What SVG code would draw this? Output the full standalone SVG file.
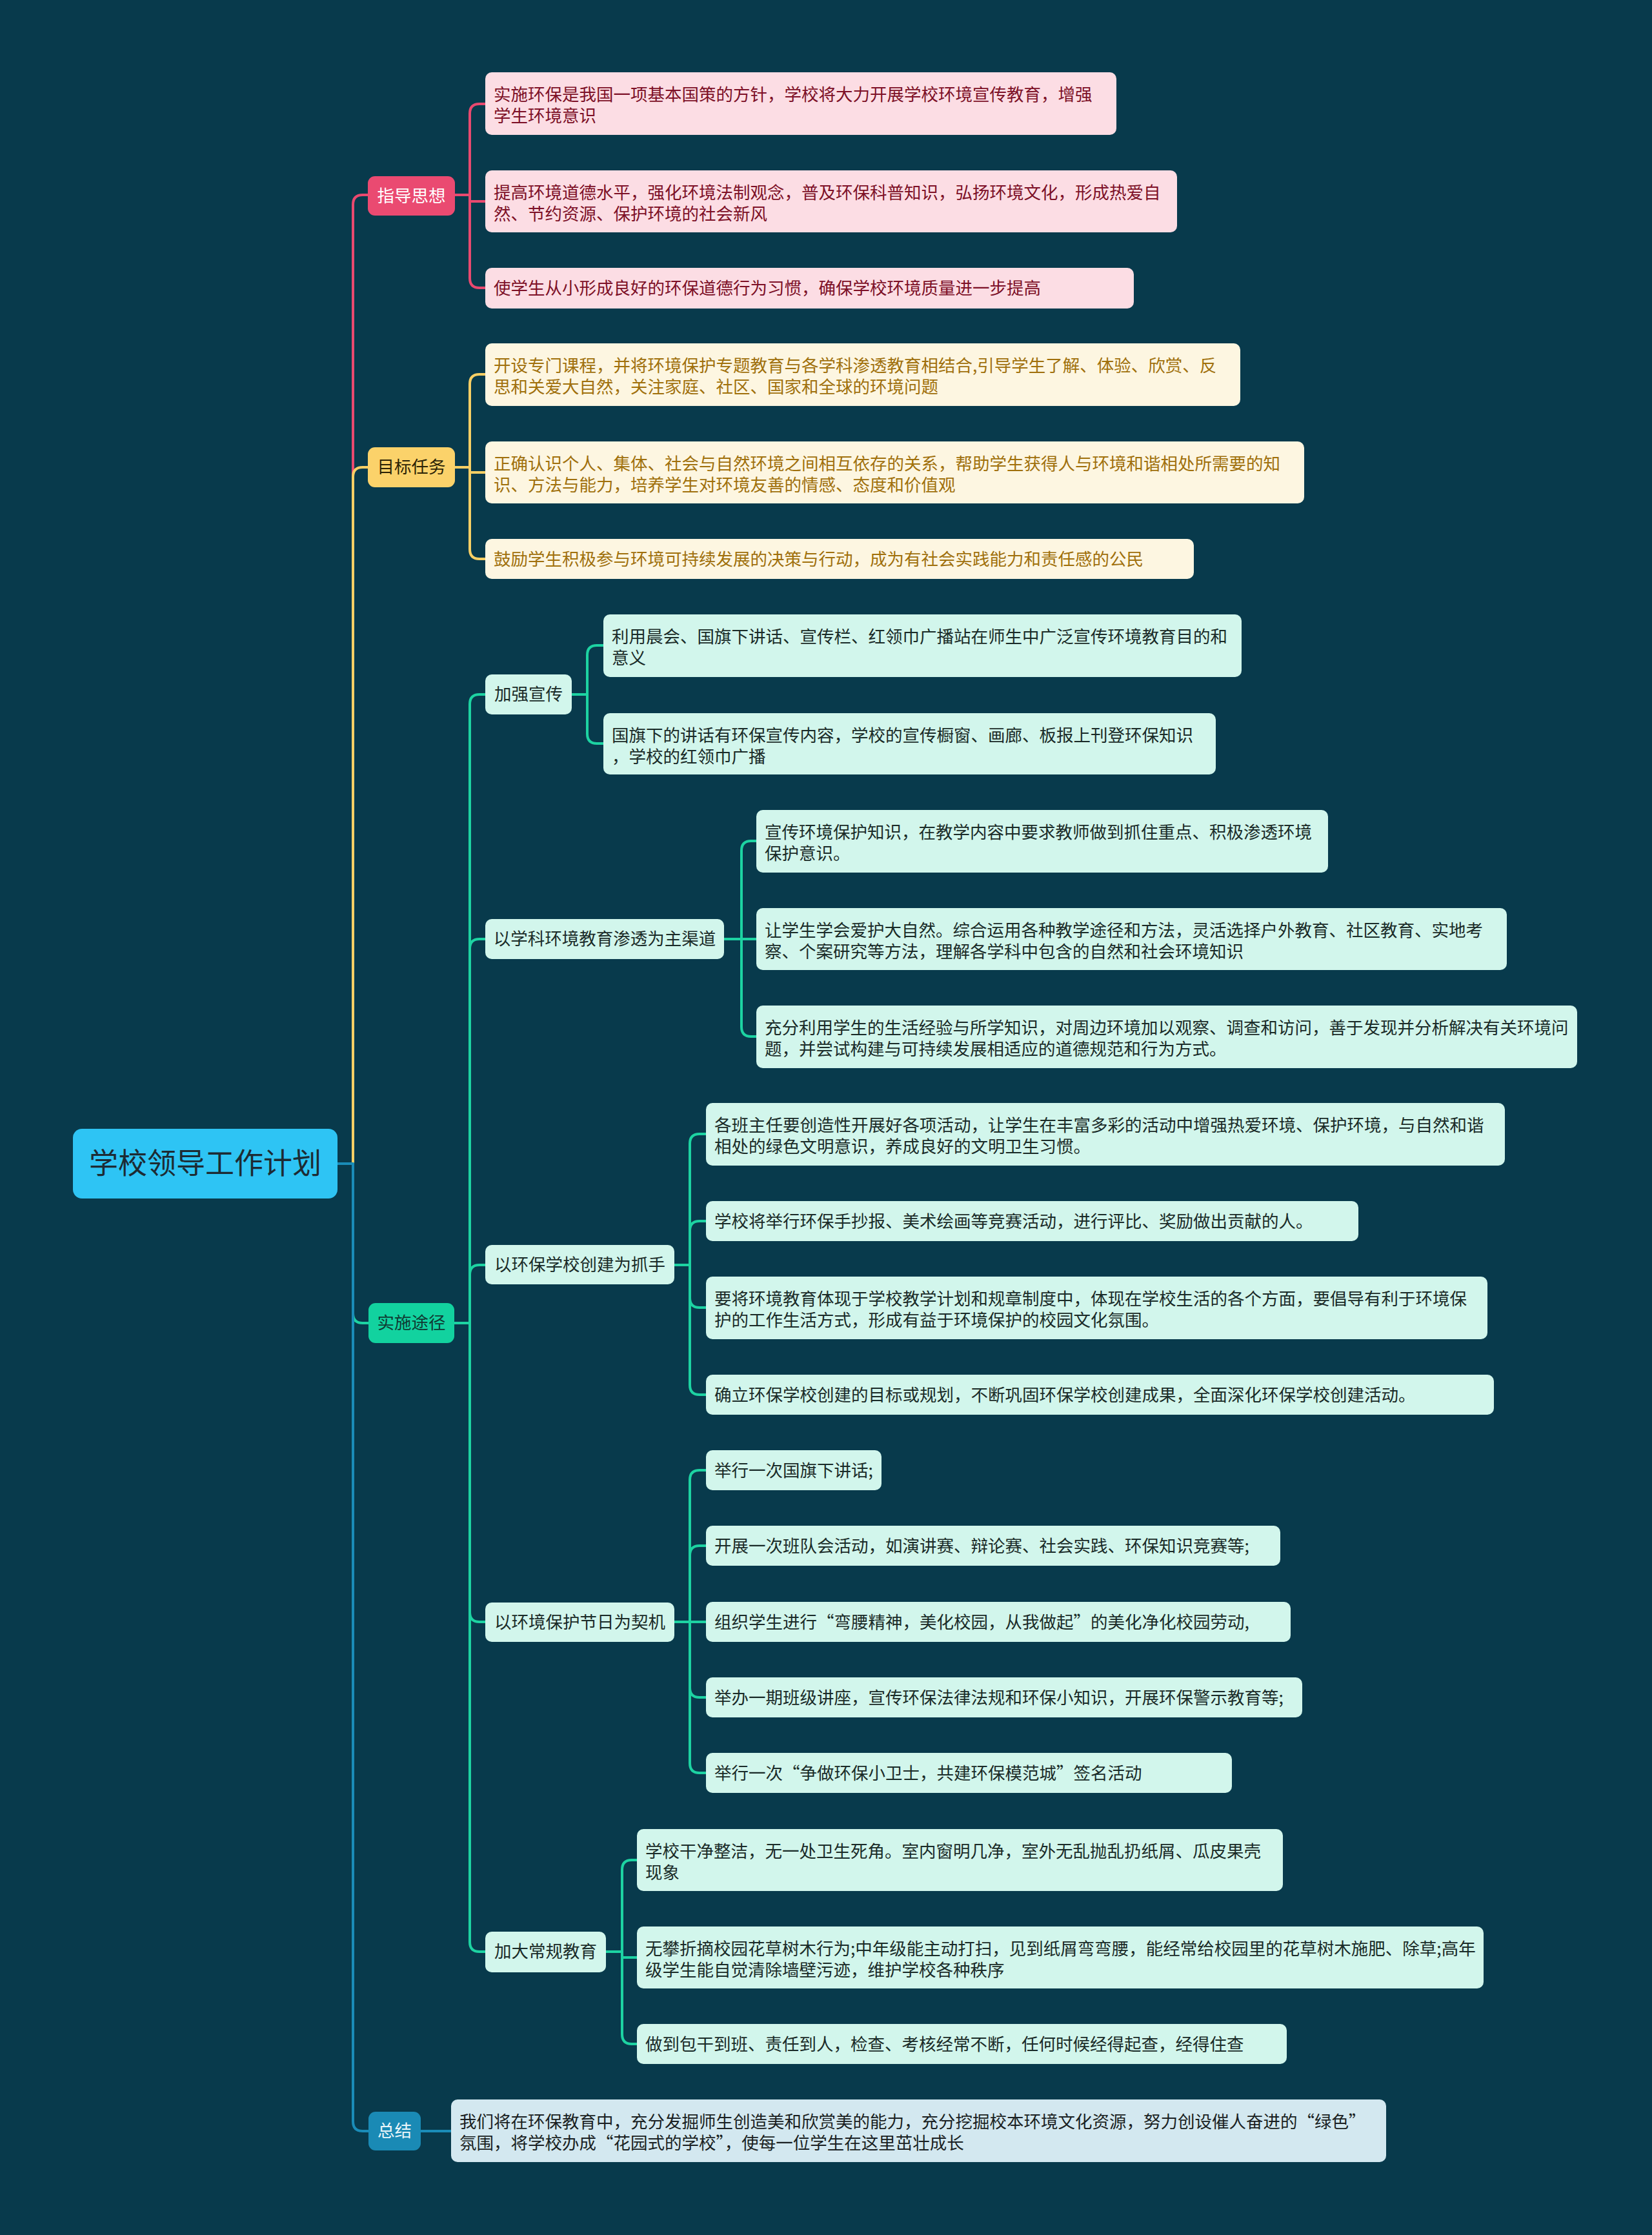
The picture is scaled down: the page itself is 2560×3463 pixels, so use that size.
<svg xmlns="http://www.w3.org/2000/svg" width="2560" height="3463" viewBox="0 0 2560 3463">
<style>
text{font-family:"Noto Sans CJK SC","Noto Sans",sans-serif;font-size:26.5px}
.c{fill:none;stroke-width:4;stroke-linecap:round;stroke-linejoin:round}
.cp{stroke:#e9496f}.cy{stroke:#f8cf65}.cg{stroke:#1dd3a2}.cb{stroke:#1a8cb8}
.lp{fill:#fcdde4}.tp{fill:#7d1027}
.ly{fill:#fdf6e1}.ty{fill:#a0700c}
.lg{fill:#d2f6ec}.tg{fill:#1a2b28}
.lb{fill:#d3e8f0}.tb{fill:#1a1f22}
.m{text-anchor:middle}
</style>
<rect width="2560" height="3463" fill="#083a4c"/>
<g id="connectors">
<path class="c cp" d="M523,1803 H547 V317 Q547,302 562,302 H572"/>
<path class="c cy" d="M547,1803 V739 Q547,724 562,724 H572"/>
<path class="c cg" d="M547,1803 V2035 Q547,2050 562,2050 H573"/>
<path class="c cb" d="M523,1803 H547 V3287 Q547,3302 562,3302 H573"/>
<path class="c cp" d="M705,302 H728 M728,302 V176 Q728,161 743,161 H754 M728,302 V312 H754 M728,302 V431 Q728,446 743,446 H754"/>
<path class="c cy" d="M705,724 H728 M728,724 V595 Q728,580 743,580 H754 M728,724 V732 H754 M728,724 V851 Q728,866 743,866 H754"/>
<path class="c cg" d="M704,2050 H728 M728,2050 V1091 Q728,1076 743,1076 H754 M728,2050 V1470 Q728,1455 743,1455 H754 M728,2050 V1975 Q728,1960 743,1960 H754 M728,2050 V2498 Q728,2513 743,2513 H754 M728,2050 V3009 Q728,3024 743,3024 H754"/>
<path class="c cg" d="M886,1076 H910 M910,1076 V1015 Q910,1000 925,1000 H937 M910,1076 V1137 Q910,1152 925,1152 H937"/>
<path class="c cg" d="M1122,1455 H1149 M1149,1455 V1318 Q1149,1303 1164,1303 H1174 M1149,1455 H1174 M1149,1455 V1591 Q1149,1606 1164,1606 H1174"/>
<path class="c cg" d="M1045,1960 H1069 M1069,1960 V1772 Q1069,1757 1084,1757 H1096 M1069,1960 V1907 Q1069,1892 1084,1892 H1096 M1069,1960 V2011 Q1069,2026 1084,2026 H1096 M1069,1960 V2146 Q1069,2161 1084,2161 H1096"/>
<path class="c cg" d="M1045,2513 H1069 M1069,2513 V2293 Q1069,2278 1084,2278 H1096 M1069,2513 V2410 Q1069,2395 1084,2395 H1096 M1069,2513 H1096 M1069,2513 V2615 Q1069,2630 1084,2630 H1096 M1069,2513 V2732 Q1069,2747 1084,2747 H1096"/>
<path class="c cg" d="M939,3024 H964 M964,3024 V2897 Q964,2882 979,2882 H989 M964,3024 V3033 H989 M964,3024 V3152 Q964,3167 979,3167 H989"/>
<path class="c cb" d="M652,3302 H701"/>
</g>
<g id="root"><rect x="113" y="1749" width="410" height="108" rx="14" fill="#2ec4f4"/><text x="318" y="1819" class="m" style="font-size:45px" fill="#1d2b33">学校领导工作计划</text></g>
<g id="n-zhidao"><rect x="570" y="273" width="135" height="61" rx="11" fill="#ea4a71"/><text x="637.5" y="313" class="m" fill="#ffffff">指导思想</text></g>
<g id="p1"><rect class="lp" x="752" y="112" width="978" height="97" rx="10"/><text class="tp" x="765" y="156">实施环保是我国一项基本国策的方针，学校将大力开展学校环境宣传教育，增强</text><text class="tp" x="765" y="189">学生环境意识</text></g>
<g id="p2"><rect class="lp" x="752" y="264" width="1072" height="96" rx="10"/><text class="tp" x="765" y="308">提高环境道德水平，强化环境法制观念，普及环保科普知识，弘扬环境文化，形成热爱自</text><text class="tp" x="765" y="341">然、节约资源、保护环境的社会新风</text></g>
<g id="p3"><rect class="lp" x="752" y="415" width="1005" height="63" rx="10"/><text class="tp" x="765" y="456">使学生从小形成良好的环保道德行为习惯，确保学校环境质量进一步提高</text></g>
<g id="n-mubiao"><rect x="570" y="693" width="135" height="62" rx="11" fill="#fbd26a"/><text x="637.5" y="733" class="m" fill="#2b2205">目标任务</text></g>
<g id="y1"><rect class="ly" x="752" y="532" width="1170" height="97" rx="10"/><text class="ty" x="765" y="576">开设专门课程，并将环境保护专题教育与各学科渗透教育相结合,引导学生了解、体验、欣赏、反</text><text class="ty" x="765" y="609">思和关爱大自然，关注家庭、社区、国家和全球的环境问题</text></g>
<g id="y2"><rect class="ly" x="752" y="684" width="1269" height="96" rx="10"/><text class="ty" x="765" y="728">正确认识个人、集体、社会与自然环境之间相互依存的关系，帮助学生获得人与环境和谐相处所需要的知</text><text class="ty" x="765" y="761">识、方法与能力，培养学生对环境友善的情感、态度和价值观</text></g>
<g id="y3"><rect class="ly" x="752" y="835" width="1098" height="62" rx="10"/><text class="ty" x="765" y="876">鼓励学生积极参与环境可持续发展的决策与行动，成为有社会实践能力和责任感的公民</text></g>
<g id="n-shishi"><rect x="571" y="2019" width="133" height="62" rx="11" fill="#12d29f"/><text x="637.5" y="2059" class="m" fill="#0f3b33">实施途径</text></g>
<g id="g-xuanchuan"><rect class="lg" x="752" y="1045" width="134" height="62" rx="10"/><text class="tg m" x="819" y="1085">加强宣传</text></g>
<g id="g1"><rect class="lg" x="935" y="952" width="989" height="97" rx="10"/><text class="tg" x="948" y="996">利用晨会、国旗下讲话、宣传栏、红领巾广播站在师生中广泛宣传环境教育目的和</text><text class="tg" x="948" y="1029">意义</text></g>
<g id="g2"><rect class="lg" x="935" y="1105" width="949" height="95" rx="10"/><text class="tg" x="948" y="1149">国旗下的讲话有环保宣传内容，学校的宣传橱窗、画廊、板报上刊登环保知识</text><text class="tg" x="948" y="1182">，学校的红领巾广播</text></g>
<g id="g-xueke"><rect class="lg" x="752" y="1424" width="370" height="62" rx="10"/><text class="tg m" x="937" y="1464">以学科环境教育渗透为主渠道</text></g>
<g id="g3"><rect class="lg" x="1172" y="1255" width="886" height="97" rx="10"/><text class="tg" x="1185" y="1299">宣传环境保护知识，在教学内容中要求教师做到抓住重点、积极渗透环境</text><text class="tg" x="1185" y="1332">保护意识。</text></g>
<g id="g4"><rect class="lg" x="1172" y="1407" width="1163" height="96" rx="10"/><text class="tg" x="1185" y="1451">让学生学会爱护大自然。综合运用各种教学途径和方法，灵活选择户外教育、社区教育、实地考</text><text class="tg" x="1185" y="1484">察、个案研究等方法，理解各学科中包含的自然和社会环境知识</text></g>
<g id="g5"><rect class="lg" x="1172" y="1558" width="1272" height="97" rx="10"/><text class="tg" x="1185" y="1602">充分利用学生的生活经验与所学知识，对周边环境加以观察、调查和访问，善于发现并分析解决有关环境问</text><text class="tg" x="1185" y="1635">题，并尝试构建与可持续发展相适应的道德规范和行为方式。</text></g>
<g id="g-chuangjian"><rect class="lg" x="752" y="1929" width="293" height="61" rx="10"/><text class="tg m" x="898.5" y="1969">以环保学校创建为抓手</text></g>
<g id="g6"><rect class="lg" x="1094" y="1709" width="1238" height="97" rx="10"/><text class="tg" x="1107" y="1753">各班主任要创造性开展好各项活动，让学生在丰富多彩的活动中增强热爱环境、保护环境，与自然和谐</text><text class="tg" x="1107" y="1786">相处的绿色文明意识，养成良好的文明卫生习惯。</text></g>
<g id="g7"><rect class="lg" x="1094" y="1861" width="1011" height="62" rx="10"/><text class="tg" x="1107" y="1902">学校将举行环保手抄报、美术绘画等竞赛活动，进行评比、奖励做出贡献的人。</text></g>
<g id="g8"><rect class="lg" x="1094" y="1978" width="1211" height="97" rx="10"/><text class="tg" x="1107" y="2022">要将环境教育体现于学校教学计划和规章制度中，体现在学校生活的各个方面，要倡导有利于环境保</text><text class="tg" x="1107" y="2055">护的工作生活方式，形成有益于环境保护的校园文化氛围。</text></g>
<g id="g9"><rect class="lg" x="1094" y="2130" width="1221" height="62" rx="10"/><text class="tg" x="1107" y="2171">确立环保学校创建的目标或规划，不断巩固环保学校创建成果，全面深化环保学校创建活动。</text></g>
<g id="g-jieri"><rect class="lg" x="752" y="2483" width="293" height="61" rx="10"/><text class="tg m" x="898.5" y="2523">以环境保护节日为契机</text></g>
<g id="g10"><rect class="lg" x="1094" y="2247" width="272" height="62" rx="10"/><text class="tg" x="1107" y="2288">举行一次国旗下讲话;</text></g>
<g id="g11"><rect class="lg" x="1094" y="2364" width="890" height="62" rx="10"/><text class="tg" x="1107" y="2405">开展一次班队会活动，如演讲赛、辩论赛、社会实践、环保知识竞赛等;</text></g>
<g id="g12"><rect class="lg" x="1094" y="2482" width="906" height="62" rx="10"/><text class="tg" x="1107" y="2523">组织学生进行“弯腰精神，美化校园，从我做起”的美化净化校园劳动,</text></g>
<g id="g13"><rect class="lg" x="1094" y="2599" width="924" height="62" rx="10"/><text class="tg" x="1107" y="2640">举办一期班级讲座，宣传环保法律法规和环保小知识，开展环保警示教育等;</text></g>
<g id="g14"><rect class="lg" x="1094" y="2716" width="815" height="62" rx="10"/><text class="tg" x="1107" y="2757">举行一次“争做环保小卫士，共建环保模范城”签名活动</text></g>
<g id="g-changgui"><rect class="lg" x="752" y="2993" width="187" height="63" rx="10"/><text class="tg m" x="845.5" y="3033">加大常规教育</text></g>
<g id="g15"><rect class="lg" x="987" y="2834" width="1001" height="96" rx="10"/><text class="tg" x="1000" y="2878">学校干净整洁，无一处卫生死角。室内窗明几净，室外无乱抛乱扔纸屑、瓜皮果壳</text><text class="tg" x="1000" y="2911">现象</text></g>
<g id="g16"><rect class="lg" x="987" y="2985" width="1312" height="96" rx="10"/><text class="tg" x="1000" y="3029">无攀折摘校园花草树木行为;中年级能主动打扫，见到纸屑弯弯腰，能经常给校园里的花草树木施肥、除草;高年</text><text class="tg" x="1000" y="3062">级学生能自觉清除墙壁污迹，维护学校各种秩序</text></g>
<g id="g17"><rect class="lg" x="987" y="3136" width="1007" height="62" rx="10"/><text class="tg" x="1000" y="3177">做到包干到班、责任到人，检查、考核经常不断，任何时候经得起查，经得住查</text></g>
<g id="n-zongjie"><rect x="571" y="3272" width="81" height="60" rx="11" fill="#1a8ab5"/><text x="611.5" y="3311" class="m" fill="#eaf6fa">总结</text></g>
<g id="b1"><rect class="lb" x="699" y="3253" width="1449" height="97" rx="10"/><text class="tb" x="712" y="3297">我们将在环保教育中，充分发掘师生创造美和欣赏美的能力，充分挖掘校本环境文化资源，努力创设催人奋进的“绿色”</text><text class="tb" x="712" y="3330">氛围，将学校办成“花园式的学校”，使每一位学生在这里茁壮成长</text></g>
</svg>
